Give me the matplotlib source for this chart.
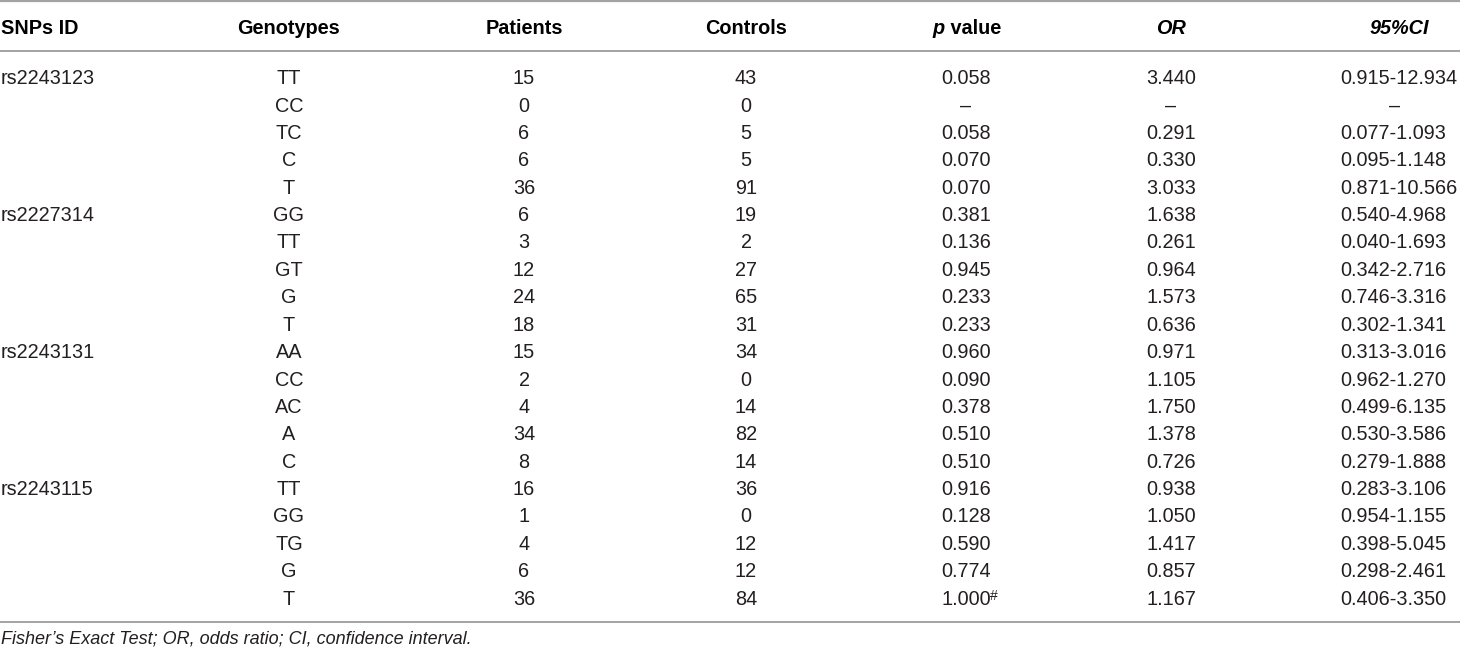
import matplotlib
matplotlib.use("Agg")
import matplotlib.pyplot as plt

plt.rcParams['font.family'] = ['Liberation Sans', 'DejaVu Sans']

# table content
headers = ['SNPs ID', 'Genotypes', 'Patients', 'Controls', 'p value', 'OR', '95%CI']
snp_ids = ['rs2243123', 'rs2227314', 'rs2243131', 'rs2243115']
genotypes = ['TT', 'CC', 'TC', 'C', 'T',
             'GG', 'TT', 'GT', 'G', 'T',
             'AA', 'CC', 'AC', 'A', 'C',
             'TT', 'GG', 'TG', 'G', 'T']
patients = [15, 0, 6, 6, 36, 6, 3, 12, 24, 18, 15, 2, 4, 34, 8, 16, 1, 4, 6, 36]
controls = [43, 0, 5, 5, 91, 19, 2, 27, 65, 31, 34, 0, 14, 82, 14, 36, 0, 12, 12, 84]
p_values = ['0.058', '–', '0.058', '0.070', '0.070',
            '0.381', '0.136', '0.945', '0.233', '0.233',
            '0.960', '0.090', '0.378', '0.510', '0.510',
            '0.916', '0.128', '0.590', '0.774', '1.000']
p_marks = {19: '#'}
odds_ratio = ['3.440', '–', '0.291', '0.330', '3.033',
              '1.638', '0.261', '0.964', '1.573', '0.636',
              '0.971', '1.105', '1.750', '1.378', '0.726',
              '0.938', '1.050', '1.417', '0.857', '1.167']
ci95 = ['0.915-12.934', '–', '0.077-1.093', '0.095-1.148', '0.871-10.566',
        '0.540-4.968', '0.040-1.693', '0.342-2.716', '0.746-3.316', '0.302-1.341',
        '0.313-3.016', '0.962-1.270', '0.499-6.135', '0.530-3.586', '0.279-1.888',
        '0.283-3.106', '0.954-1.155', '0.398-5.045', '0.298-2.461', '0.406-3.350']
footnote = 'Fisher\u2019s Exact Test; OR, odds ratio; CI, confidence interval.'

W, H = 1460, 652
fig = plt.figure(figsize=(W / 100, H / 100), dpi=100)
ax = fig.add_axes([0, 0, 1, 1])
ax.set_xlim(0, W)
ax.set_ylim(H, 0)
ax.axis('off')

fs = 14.3
txt = '#231f20'
line_c = '#a3a3a3'
col_x = [1, 289, 524, 746, 966, 1171, 1399]
ci_left = 1340
head_y = 27
row0 = 77
row_h = 27.4
base = 7.1  # half cap height, px: text placed on its baseline

# rules
for y, lw in [(1, 1.6), (51, 1.4), (622, 1.4)]:
    ax.plot([0, W], [y, y], color=line_c, lw=lw, solid_capstyle='butt')

def cell(x, y, s, ha='center', **kw):
    kw.setdefault('color', txt)
    return ax.text(x, y + base, s, ha=ha, va='baseline', fontsize=fs, **kw)

# header
cell(col_x[0], head_y, headers[0], ha='left', fontweight='bold', color='black')
for i in (1, 2, 3):
    cell(col_x[i], head_y, headers[i], fontweight='bold', color='black')
cell(945, head_y, 'p', ha='right', fontweight='bold', style='italic', color='black')
cell(945, head_y, ' value', ha='left', fontweight='bold', color='black')
for i in (5, 6):
    cell(col_x[i], head_y, headers[i], fontweight='bold', style='italic', color='black')

# body
for r in range(len(genotypes)):
    y = row0 + r * row_h
    if r % 5 == 0:
        cell(col_x[0], y, snp_ids[r // 5], ha='left')
    cell(col_x[1], y, genotypes[r])
    cell(col_x[2], y, str(patients[r]))
    cell(col_x[3], y, str(controls[r]))
    pt = cell(col_x[4], y, p_values[r])
    if r in p_marks:
        ax.annotate(p_marks[r], xy=(0.99, 1.06), xycoords=pt, ha='left', va='top',
                    fontsize=10, color=txt)
    cell(col_x[5], y, odds_ratio[r])
    if ci95[r] == '–':
        cell(col_x[6] - 4, y, ci95[r])
    else:
        cell(ci_left, y, ci95[r], ha='left')

ax.text(1, 639, footnote, ha='left', va='center', fontsize=13, style='italic', color=txt)

fig.savefig('out.png', dpi=100)
